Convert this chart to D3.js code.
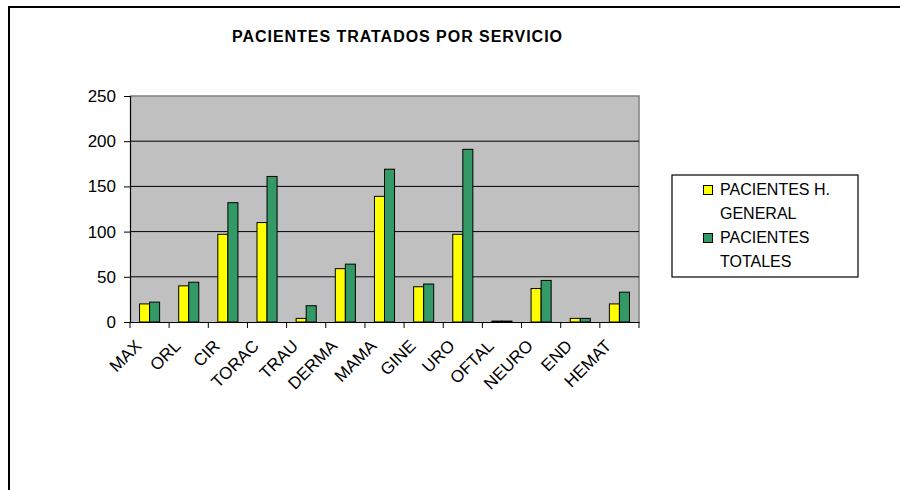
<!DOCTYPE html>
<html>
<head>
<meta charset="utf-8">
<script src="https://cdn.jsdelivr.net/npm/d3@7"></script>
<style>
  body { margin: 0; background: #fff; }
  svg { display: block; font-family: Arial, "Liberation Sans", sans-serif; }
</style>
</head>
<body>
<div id="chart"></div>
<script>
const categories = ["MAX", "ORL", "CIR", "TORAC", "TRAU", "DERMA", "MAMA", "GINE", "URO", "OFTAL", "NEURO", "END", "HEMAT"];
const pacientesHGeneral = [20, 40, 97, 110, 4, 59, 139, 39, 97, 1, 37, 4, 20];
const pacientesTotales = [22, 44, 132, 161, 18, 64, 169, 42, 191, 1, 46, 4, 33];
const seriesNames = ["PACIENTES H. GENERAL", "PACIENTES TOTALES"];
const legendLines = [["PACIENTES H.", "GENERAL"], ["PACIENTES", "TOTALES"]];
const yTicks = [0, 50, 100, 150, 200, 250];

const width = 900, height = 490;
const plot = { left: 130, right: 639, top: 96, bottom: 322 };
const colours = ["#FFFF00", "#339966"];

const svg = d3.select("#chart").append("svg")
  .attr("width", width)
  .attr("height", height);

// outer frame (runs off the right and bottom edges)
svg.append("rect")
  .attr("x", 9).attr("y", 7)
  .attr("width", 900).attr("height", 500)
  .attr("fill", "none")
  .attr("stroke", "#000")
  .attr("stroke-width", 2);

svg.append("text")
  .attr("x", 397).attr("y", 41.5)
  .attr("text-anchor", "middle")
  .attr("textLength", 330)
  .attr("lengthAdjust", "spacing")
  .style("font-size", "16px")
  .style("font-weight", "bold")
  .text("PACIENTES TRATADOS POR SERVICIO");

const x = d3.scaleBand()
  .domain(categories)
  .range([plot.left, plot.right]);

const xSeries = d3.scaleBand()
  .domain([0, 1])
  .range([0, x.bandwidth()])
  .paddingOuter(0.95);

const y = d3.scaleLinear()
  .domain([0, 250])
  .range([plot.bottom, plot.top]);

// plot area
svg.append("rect")
  .attr("x", plot.left).attr("y", plot.top)
  .attr("width", plot.right - plot.left)
  .attr("height", plot.bottom - plot.top)
  .attr("fill", "#C0C0C0");

svg.append("path")
  .attr("d", `M${plot.left},${plot.top}H${plot.right}V${plot.bottom}`)
  .attr("fill", "none")
  .attr("stroke", "#808080")
  .attr("stroke-width", 1.5);

// gridlines
svg.append("g")
  .selectAll("line")
  .data(yTicks.filter(d => d > 0 && d < 250))
  .join("line")
  .attr("x1", plot.left).attr("x2", plot.right)
  .attr("y1", d => y(d)).attr("y2", d => y(d))
  .attr("stroke", "#000")
  .attr("stroke-width", 1);

// bars
const series = [pacientesHGeneral, pacientesTotales];
const groups = svg.append("g")
  .selectAll("g")
  .data(categories)
  .join("g")
  .attr("transform", d => `translate(${x(d)},0)`);

groups.selectAll("rect")
  .data((d, i) => series.map((s, k) => ({ k, v: s[i] })))
  .join("rect")
  .attr("x", d => xSeries(d.k))
  .attr("width", xSeries.bandwidth())
  .attr("y", d => y(d.v))
  .attr("height", d => y(0) - y(d.v))
  .attr("fill", d => colours[d.k])
  .attr("stroke", "#000")
  .attr("stroke-width", 1);

// y axis
const yAxis = svg.append("g")
  .attr("transform", `translate(${plot.left},0)`)
  .call(d3.axisLeft(y).tickValues(yTicks).tickSize(6).tickPadding(8));
yAxis.select(".domain").attr("stroke", "#000").attr("stroke-width", 1.2);
yAxis.selectAll("text").style("font-size", "17px").attr("fill", "#000");

// x axis
const xAxis = svg.append("g")
  .attr("transform", `translate(0,${plot.bottom})`)
  .call(d3.axisBottom(x).tickSize(0).tickFormat(""));
xAxis.select(".domain").attr("stroke", "#000").attr("stroke-width", 1.2);

svg.append("g")
  .selectAll("line")
  .data(categories.concat(["_end"]))
  .join("line")
  .attr("x1", (d, i) => i < categories.length ? x(d) : plot.right)
  .attr("x2", (d, i) => i < categories.length ? x(d) : plot.right)
  .attr("y1", plot.bottom).attr("y2", plot.bottom + 6)
  .attr("stroke", "#000");

svg.append("g")
  .selectAll("text")
  .data(categories)
  .join("text")
  .attr("transform", d => `translate(${x(d) + x.bandwidth() / 2 - 7},${plot.bottom + 25}) rotate(-45)`)
  .attr("text-anchor", "end")
  .style("font-size", "17px")
  .text(d => d);

// legend
const legend = svg.append("g");
legend.append("rect")
  .attr("x", 672).attr("y", 175)
  .attr("width", 186).attr("height", 102)
  .attr("fill", "#fff")
  .attr("stroke", "#000")
  .attr("stroke-width", 1.2);

const items = legend.selectAll("g.item")
  .data(seriesNames)
  .join("g")
  .attr("class", "item")
  .attr("transform", (d, i) => `translate(0,${195 + i * 48})`);

items.append("rect")
  .attr("x", 703.5).attr("y", -9.5)
  .attr("width", 9).attr("height", 9)
  .attr("fill", (d, i) => colours[i])
  .attr("stroke", "#000");

items.append("text")
  .attr("x", 720).attr("y", 0)
  .style("font-size", "16px")
  .selectAll("tspan")
  .data((d, i) => legendLines[i])
  .join("tspan")
  .attr("x", 720)
  .attr("dy", (d, j) => j === 0 ? 0 : 24)
  .text(d => d);
</script>
</body>
</html>
